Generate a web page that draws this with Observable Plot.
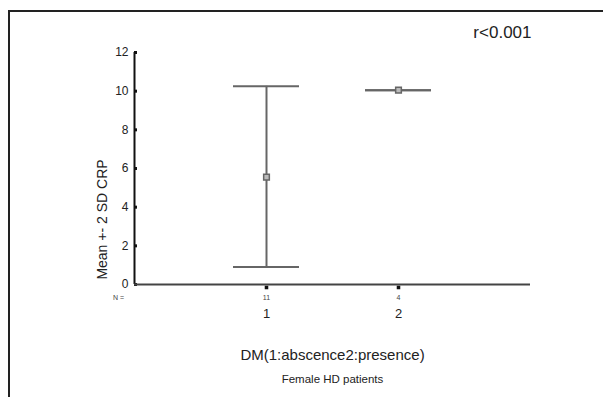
<!DOCTYPE html>
<html>
<head>
<meta charset="utf-8">
<script src="https://cdn.jsdelivr.net/npm/d3@7"></script>
<script src="https://cdn.jsdelivr.net/npm/@observablehq/plot@0.6"></script>
<style>
  html, body { margin: 0; padding: 0; background: #fff; }
  #wrap { position: relative; width: 603px; height: 397px; overflow: hidden; font-family: "Liberation Sans", Arial, sans-serif; }
  #frame { position: absolute; left: 8px; top: 10px; width: 700px; height: 500px; border-left: 2px solid #222; border-top: 2px solid #222; pointer-events: none; }
  svg { display: block; }
</style>
</head>
<body>
<div id="wrap"><div id="frame"></div></div>
<script>
const categories = [1, 2];
const categoryLabels = ["1", "2"];
const nValues = [11, 4];
const means = [5.55, 10.05];
const lowers = [0.9, 10.05];
const uppers = [10.25, 10.05];
const yTicks = [0, 2, 4, 6, 8, 10, 12];

const data = categories.map((c, i) => ({cat: c, label: categoryLabels[i], n: nValues[i], mean: means[i], lo: lowers[i], hi: uppers[i]}));
const capHalf = 0.25;

const chart = Plot.plot({
  width: 603,
  height: 397,
  marginLeft: 134,
  marginRight: 73,
  marginTop: 52,
  marginBottom: 113,
  style: {fontFamily: "'Liberation Sans', Arial, sans-serif", background: "transparent", overflow: "visible"},
  x: {domain: [0, 3], axis: null},
  y: {domain: [0, 12], axis: null},
  marks: [
    // y axis
    Plot.ruleX([0], {stroke: "#111", strokeWidth: 2}),
    Plot.axisY({ticks: yTicks, tickSize: 0, tickPadding: 6, fontSize: 12, fill: "#222", label: null}),
    Plot.dot(yTicks, {x: 0, y: d => d, symbol: "square", r: 1.7, fill: "#111", dx: 1}),
    // x axis
    Plot.ruleY([0], {stroke: "#444", strokeWidth: 2}),
    Plot.dot(data, {x: "cat", y: 0, symbol: "square", r: 2, fill: "#111", dy: 3}),
    Plot.text(data, {x: "cat", y: 0, text: d => String(d.n), dy: 13, fontSize: 7, fill: "#444"}),
    Plot.text(["N ="], {x: 0, y: 0, text: d => d, dy: 13, dx: -16, fontSize: 7, fill: "#444"}),
    Plot.text(data, {x: "cat", y: 0, text: "label", dy: 29, fontSize: 13, fill: "#222"}),
    // error bars
    Plot.ruleX(data, {x: "cat", y1: "lo", y2: "hi", stroke: "#666", strokeWidth: 2}),
    Plot.ruleY(data, {y: "hi", x1: d => d.cat - capHalf, x2: d => d.cat + capHalf, stroke: "#666", strokeWidth: 2}),
    Plot.ruleY(data, {y: "lo", x1: d => d.cat - capHalf, x2: d => d.cat + capHalf, stroke: "#666", strokeWidth: 2}),
    Plot.dot(data, {x: "cat", y: "mean", symbol: "square", r: 3.2, fill: "#bbb", stroke: "#666", strokeWidth: 1.5}),
    // titles
    Plot.text(["Mean +- 2 SD CRP"], {frameAnchor: "left", textAnchor: "middle", text: d => d, rotate: -90, dx: -32, dy: 51, fontSize: 14, fill: "#222"}),
    Plot.text(["DM(1:abscence2:presence)"], {frameAnchor: "bottom", textAnchor: "middle", text: d => d, dy: 75, fontSize: 15, fill: "#222"}),
    Plot.text(["Female HD patients"], {frameAnchor: "bottom", textAnchor: "middle", text: d => d, dy: 98, fontSize: 11.5, fill: "#222"}),
    Plot.text(["r<0.001"], {frameAnchor: "top-right", textAnchor: "end", text: d => d, dy: -27, dx: 1, fontSize: 17, fill: "#222"})
  ]
});
chart.style.position = "absolute";
chart.style.left = "0px";
chart.style.top = "0px";
document.getElementById("wrap").appendChild(chart);
</script>
</body>
</html>
